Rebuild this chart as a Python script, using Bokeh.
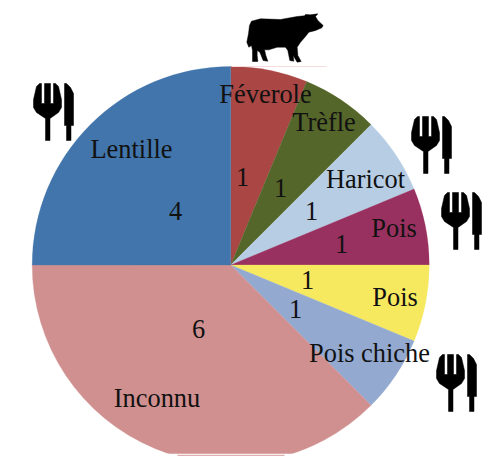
from math import pi
from bokeh.plotting import figure
from bokeh.models import Range1d
from bokeh.core.properties import value
from bokeh.embed import file_html
from bokeh.resources import INLINE

# ---- chart data (clockwise from 12 o'clock)
categories = ["Féverole", "Trèfle", "Haricot", "Pois", "Pois", "Pois chiche", "Inconnu", "Lentille"]
counts = [1, 1, 1, 1, 1, 1, 6, 4]
colors = ["#AA4644", "#55662A", "#B7CDE4", "#98315F", "#F6E960", "#93A9CF", "#D09090", "#4175AB"]

# ---- label placement, in picture pixels (x centre, baseline y)
name_pos = [(265, 102), (323.5, 130), (365, 187), (393.5, 236), (394.5, 305), (369, 361), (156.5, 406), (131, 157)]
count_pos = [(242, 185), (280, 196), (311, 219), (341, 252), (307, 288), (295, 317), (198, 337), (175, 219)]
TEXT_SHIFT = 9

W, H = 497, 456
CX, CY, R = 230.2, 264.5, 198.5


def dx(px):
    return px - CX


def dy(py):
    return CY - py


p = figure(width=W, height=H, output_backend="svg", toolbar_location=None,
           x_range=Range1d(dx(0), dx(W)), y_range=Range1d(dy(H), dy(0)),
           x_axis_type=None, y_axis_type=None, min_border=0,
           background_fill_color="white", border_fill_color="white", outline_line_color=None)
p.grid.visible = False

# pie
total = sum(counts)
end = pi / 2
starts, ends = [], []
for c in counts:
    a = end - 2 * pi * c / total
    starts.append(a)
    ends.append(end)
    end = a
p.wedge(x=0, y=0, radius=R, start_angle=starts, end_angle=ends, direction="anticlock",
        fill_color=colors, line_color=colors, line_width=0.3)

# scanned picture's cropped bottom and stray strips
p.quad(left=dx(0), right=dx(497), bottom=dy(456), top=dy(453.3), fill_color="white", line_color=None)
p.quad(left=dx(177), right=dx(284), bottom=dy(456), top=dy(454.3), fill_color="#DDAFAF", line_color=None)
p.quad(left=dx(231), right=dx(326), bottom=dy(66.6), top=dy(65.6), fill_color="#F6DCDC", line_color=None)

# labels
font = value("Liberation Serif")
p.text(x=[dx(a) for a, _ in name_pos], y=[dy(b - TEXT_SHIFT) for _, b in name_pos], text=categories,
       text_font=font, text_font_size="26.4px", text_color="#111111",
       text_align="center", text_baseline="alphabetic")
p.text(x=[dx(a) for a, _ in count_pos], y=[dy(b - TEXT_SHIFT) for _, b in count_pos], text=[str(c) for c in counts],
       text_font=font, text_font_size="26.4px", text_color="#111111",
       text_align="center", text_baseline="alphabetic")

# pictograms
fork = [(3, 3), (0, 16), (0, 24), (3, 29), (12, 35), (12, 57), (16.5, 57), (16.5, 35), (25, 29), (28, 24), (28, 16),
        (25, 3), (22, 0), (20, 0), (20, 20), (17, 20), (17, 0), (11, 0), (11, 20), (8, 20), (8, 0), (6, 0)]
knife = [(31, 0), (33, 0), (37, 4), (40, 10), (40, 42), (37.5, 42), (37.5, 57), (33, 57), (33, 42), (31, 42)]
cutlery_at = [(33, 83), (411, 116), (441, 192), (436, 354)]
for ox, oy in cutlery_at:
    for shape in (fork, knife):
        p.patch([dx(ox + a) for a, _ in shape], [dy(oy + b) for _, b in shape], fill_color="black", line_color="black", line_width=0.5)

cow = [(33, 62), (60, 55), (120, 57), (170, 48), (192, 46), (195, 42), (210, 43), (232, 40), (225, 48), (232, 60),
       (248, 75), (244, 82), (225, 90), (205, 95), (195, 108), (180, 125), (170, 140), (172, 165), (182, 183), (170, 185),
       (158, 165), (160, 182), (148, 180), (142, 150), (135, 140), (110, 140), (85, 148), (72, 148), (76, 165), (82, 182),
       (68, 180), (58, 155), (50, 150), (50, 165), (52, 183), (36, 183), (36, 150), (33, 135), (25, 140), (19, 125), (24, 100), (27, 75)]
p.patch([dx(240 + a / 3) for a, _ in cow], [dy(b / 3) for _, b in cow], fill_color="black", line_color="black", line_width=0.5)

open("out.html", "w").write(file_html(p, INLINE))
